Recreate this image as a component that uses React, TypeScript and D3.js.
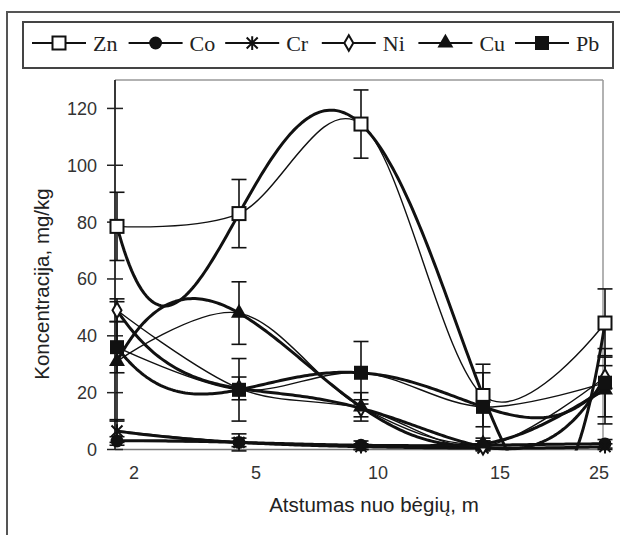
import React from "react";
import * as d3 from "d3";

// atstumas nuo bėgių (kategorijos)
const categories = ["2", "5", "10", "15", "25"];
const yTicks = [0, 20, 40, 60, 80, 100, 120];

// koncentracijos, mg/kg
const zn = [78.5, 83, 114.5, 19, 44.5];
const co = [3, 2.5, 1.5, 1.5, 2];
const cr = [6.5, 2.5, 1, 0.5, 1];
const ni = [49, 21.5, 14.5, 1, 25.5];
const cu = [31, 48, 15, 2, 21];
const pb = [36, 21, 27, 15, 23.5];

// paklaidos
const znErr = [12, 12, 12, 11, 12];
const coErr = [1.5, 1.5, 1.5, 1.5, 1.5];
const crErr = [4, 3, 1, 1, 1];
const niErr = [4, 4, 3, 1, 4];
const cuErr = [21, 11, 5, 2, 12];
const pbErr = [9, 11, 11, 12, 12];

const seriesNames = ["Zn", "Co", "Cr", "Ni", "Cu", "Pb"];
const seriesValues = [zn, co, cr, ni, cu, pb];
const seriesErrors = [znErr, coErr, crErr, niErr, cuErr, pbErr];
const markerTypes = ["openSquare", "circle", "star", "diamond", "triangle", "square"];

const W = 620;
const H = 535;
const plot = { left: 115, right: 603, top: 80, bottom: 449.5 };
const ink = "#111";

// polinominis (4 eilės) trendas, kaip Excel'yje – per 5 taškus
const trend = (vals: number[]) => (t: number) =>
  vals.reduce((s, v, i) => {
    let l = 1;
    vals.forEach((_, j) => {
      if (j !== i) l *= (t - j) / (i - j);
    });
    return s + v * l;
  }, 0);

const Marker = ({ type, x, y }: { type: string; x: number; y: number }) => {
  const t = `translate(${x},${y})`;
  if (type === "openSquare")
    return <rect x={x - 6.5} y={y - 6.5} width={13} height={13} fill="#fff" stroke={ink} strokeWidth={2} />;
  if (type === "square")
    return <rect x={x - 7} y={y - 7} width={14} height={14} fill={ink} />;
  if (type === "circle")
    return <path transform={t} d={d3.symbol(d3.symbolCircle, 130)()!} fill={ink} />;
  if (type === "triangle")
    return <path transform={t} d={d3.symbol(d3.symbolTriangle, 110)()!} fill={ink} />;
  if (type === "diamond")
    return <path transform={t} d={d3.symbol(d3.symbolDiamond, 70)()!} fill="#fff" stroke={ink} strokeWidth={2} />;
  const r = 5.5;
  return (
    <path
      transform={t}
      d={`M${-r},${-r}L${r},${r}M${-r},${r}L${r},${-r}M0,${-r * 1.25}L0,${r * 1.25}`}
      stroke={ink}
      strokeWidth={2}
      fill="none"
    />
  );
};

export default function App() {
  const x = d3.scaleLinear().domain([0, categories.length - 1]).range([117, 605]);
  const y = d3.scaleLinear().domain([0, 130]).range([plot.bottom, plot.top]);

  const smooth = d3
    .line<number>()
    .x((_, i) => x(i))
    .y((d) => y(d))
    .curve(d3.curveCardinal.tension(0));

  const samples = d3.range(0, 4.0001, 0.02);
  const trendLine = (vals: number[]) => {
    const f = trend(vals);
    return d3
      .line<number>()
      .x((t) => x(t))
      .y((t) => y(f(t)))(samples);
  };

  const legendX = d3.scaleLinear().domain([0, 1]).range([32, 128.6]);
  const legendY = 43;

  return (
    <svg width={W} height={H} style={{ position: "absolute", left: 0, top: 0, background: "#fff" }}>
      <defs>
        <clipPath id="plotClip">
          <rect x={100} y={plot.top} width={520} height={plot.bottom - plot.top + 1} />
        </clipPath>
      </defs>
      <rect x={0} y={0} width={W} height={H} fill="#fff" />
      {/* išorinis rėmelis */}
      <rect x={7} y={12} width={680} height={600} fill="none" stroke="#555" strokeWidth={2} />

      {/* legenda */}
      <rect x={23} y={22} width={590} height={46} fill="#fff" stroke="#444" strokeWidth={2} />
      {seriesNames.map((name, i) => {
        const x0 = legendX(i);
        return (
          <g key={name}>
            <line x1={x0} x2={x0 + 54} y1={legendY} y2={legendY} stroke={ink} strokeWidth={2} />
            <Marker type={markerTypes[i]} x={x0 + 27} y={legendY} />
            <text
              x={x0 + 61}
              y={legendY + 8}
              fontFamily="'Liberation Serif', 'Times New Roman', serif"
              fontSize={22}
              fill="#222"
            >
              {name}
            </text>
          </g>
        );
      })}

      {/* braižymo sritis */}
      <line x1={plot.left} x2={plot.right} y1={plot.top} y2={plot.top} stroke="#999" strokeWidth={1.5} />
      <line x1={plot.right} x2={plot.right} y1={plot.top} y2={plot.bottom} stroke="#999" strokeWidth={1.5} />
      <line x1={plot.left} x2={plot.right + 4} y1={plot.bottom} y2={plot.bottom} stroke="#777" strokeWidth={1.5} />
      <line x1={plot.left} x2={plot.left} y1={plot.top} y2={plot.bottom} stroke="#222" strokeWidth={1.8} />

      {yTicks.map((t) => (
        <g key={t}>
          <line x1={107} x2={123} y1={y(t)} y2={y(t)} stroke="#222" strokeWidth={1.5} />
          <text
            x={97}
            y={y(t) + 6.5}
            textAnchor="end"
            fontFamily="'Liberation Sans', Arial, sans-serif"
            fontSize={18}
            fill="#333"
          >
            {t}
          </text>
        </g>
      ))}
      {categories.map((c, i) => (
        <text
          key={c}
          x={Math.min(x(i) + 17, plot.right - 4)}
          y={479}
          textAnchor="middle"
          fontFamily="'Liberation Sans', Arial, sans-serif"
          fontSize={18}
          fill="#333"
        >
          {c}
        </text>
      ))}
      <text
        x={374}
        y={512}
        textAnchor="middle"
        fontFamily="'Liberation Sans', Arial, sans-serif"
        fontSize={20.5}
        fill="#222"
      >
        Atstumas nuo bėgių, m
      </text>
      <text
        transform="translate(49,284) rotate(-90)"
        textAnchor="middle"
        fontFamily="'Liberation Sans', Arial, sans-serif"
        fontSize={20.5}
        fill="#222"
      >
        Koncentracija, mg/kg
      </text>

      {/* trendai ir glodintos linijos */}
      <g clipPath="url(#plotClip)" fill="none" stroke={ink} strokeLinejoin="round">
        {seriesValues.map((vals, i) => (
          <path key={"t" + i} d={trendLine(vals)!} strokeWidth={3} />
        ))}
        {seriesValues.map((vals, i) => (
          <path key={"s" + i} d={smooth(vals)!} strokeWidth={1.4} />
        ))}
      </g>

      {/* paklaidos */}
      <g stroke={ink} strokeWidth={1.6}>
        {seriesValues.map((vals, i) =>
          vals.map((v, j) => {
            const e = seriesErrors[i][j];
            const lo = y(Math.max(v - e, -1));
            const hi = y(v + e);
            const cx = x(j);
            return (
              <g key={`e${i}-${j}`}>
                <line x1={cx} x2={cx} y1={lo} y2={hi} />
                <line x1={cx - 7.5} x2={cx + 7.5} y1={hi} y2={hi} />
                <line x1={cx - 7.5} x2={cx + 7.5} y1={lo} y2={lo} />
              </g>
            );
          })
        )}
      </g>

      {/* žymekliai */}
      {seriesValues.map((vals, i) =>
        vals.map((v, j) => <Marker key={`m${i}-${j}`} type={markerTypes[i]} x={x(j)} y={y(v)} />)
      )}
    </svg>
  );
}
